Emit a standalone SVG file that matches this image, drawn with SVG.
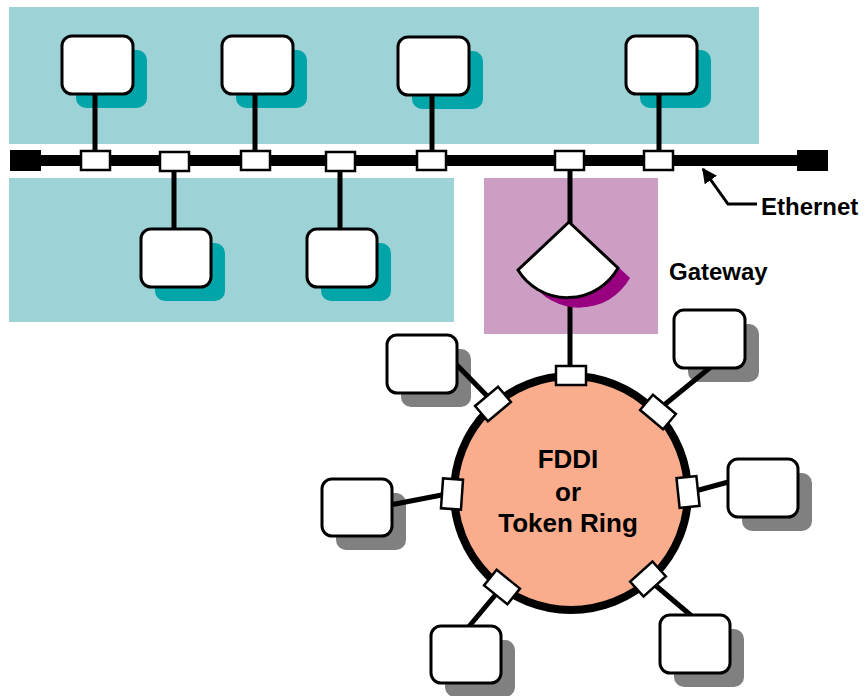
<svg xmlns="http://www.w3.org/2000/svg" width="864" height="696" viewBox="0 0 864 696">
<defs>
<style>
.node{fill:#fff;stroke:#000;stroke-width:3}
.shT{fill:#00A5AA}
.shG{fill:#808080}
.tap{fill:#fff;stroke:#000;stroke-width:2.5}
.wire{stroke:#000;stroke-width:5;fill:none}
.lbl{font-family:"Liberation Sans",Arial,sans-serif;font-weight:bold;fill:#000}
</style>
<marker id="ah" viewBox="0 0 10 10" refX="9" refY="5" markerWidth="5" markerHeight="5" orient="auto" markerUnits="strokeWidth">
<path d="M0,0 L10,5 L0,10 Z" fill="#000"/>
</marker>
</defs>
<rect width="864" height="696" fill="#fff"/>
<!-- panels -->
<rect x="9" y="7" width="750" height="137" fill="#9DD2D6"/>
<rect x="9" y="178" width="445" height="144" fill="#9DD2D6"/>
<rect x="484" y="178" width="174" height="156" fill="#CC9EC4"/>

<!-- ring -->
<g id="ring">
<circle cx="571" cy="493" r="117" fill="#F9AD8C" stroke="#000" stroke-width="8"/>
<text class="lbl" font-size="26" text-anchor="middle" x="568" y="468">FDDI</text>
<text class="lbl" font-size="26" text-anchor="middle" x="568" y="501">or</text>
<text class="lbl" font-size="26" text-anchor="middle" x="568" y="532">Token Ring</text>
</g>

<!-- shadows -->
<g id="shadows">
<rect class="shT" x="76" y="50" width="71" height="58" rx="10"/>
<rect class="shT" x="236" y="50" width="71" height="58" rx="10"/>
<rect class="shT" x="412" y="51" width="71" height="58" rx="10"/>
<rect class="shT" x="640" y="50" width="71" height="58" rx="10"/>
<rect class="shT" x="155" y="243" width="70" height="58" rx="10"/>
<rect class="shT" x="321" y="243" width="70" height="58" rx="10"/>
<rect class="shG" x="401" y="349" width="70" height="58" rx="10"/>
<rect class="shG" x="688" y="324" width="71" height="58" rx="10"/>
<rect class="shG" x="336" y="493" width="70" height="57" rx="10"/>
<rect class="shG" x="742" y="473" width="70" height="58" rx="10"/>
<rect class="shG" x="445" y="640" width="70" height="57" rx="10"/>
<rect class="shG" x="674" y="629" width="70" height="58" rx="10"/>
</g>

<!-- connectors -->
<g id="connectors">
<rect x="25" y="155" width="785" height="11" fill="#000"/>
<rect x="10" y="150" width="31" height="21" fill="#000"/>
<rect x="797" y="150" width="31" height="21" fill="#000"/>
<line class="wire" x1="95" y1="90" x2="95" y2="155"/>
<line class="wire" x1="255" y1="90" x2="255" y2="155"/>
<line class="wire" x1="432" y1="90" x2="432" y2="155"/>
<line class="wire" x1="659" y1="90" x2="659" y2="155"/>
<line class="wire" x1="174" y1="165" x2="174" y2="232"/>
<line class="wire" x1="340" y1="165" x2="340" y2="232"/>
<line class="wire" x1="570" y1="165" x2="570" y2="224"/>
<line class="wire" x1="570" y1="290" x2="570" y2="370"/>
<line class="wire" x1="452" y1="360" x2="493" y2="402"/>
<line class="wire" x1="712" y1="366" x2="658" y2="410"/>
<line class="wire" x1="390" y1="505" x2="452" y2="493"/>
<line class="wire" x1="688" y1="493" x2="732" y2="481"/>
<line class="wire" x1="502" y1="587" x2="466" y2="630"/>
<line class="wire" x1="648" y1="579" x2="694" y2="618"/>
<polyline points="757,204 728,204 703,169" fill="none" stroke="#000" stroke-width="3" marker-end="url(#ah)"/>
</g>

<!-- bus taps -->
<g id="taps">
<rect class="tap" x="81" y="151" width="29" height="19"/>
<rect class="tap" x="160" y="152" width="29" height="19"/>
<rect class="tap" x="241" y="151" width="29" height="19"/>
<rect class="tap" x="326" y="152" width="29" height="19"/>
<rect class="tap" x="417" y="151" width="29" height="19"/>
<rect class="tap" x="555" y="151" width="29" height="19"/>
<rect class="tap" x="644" y="151" width="29" height="19"/>
<rect class="tap" x="556" y="366" width="30" height="19"/>
<rect class="tap" x="-15" y="-10" width="30" height="20" transform="translate(493,404) rotate(-40)"/>
<rect class="tap" x="-15" y="-10" width="30" height="20" transform="translate(658,412) rotate(40)"/>
<rect class="tap" x="-15" y="-10" width="30" height="20" transform="translate(452,494) rotate(-86)"/>
<rect class="tap" x="-15" y="-10" width="30" height="20" transform="translate(688,492) rotate(84)"/>
<rect class="tap" x="-15" y="-10" width="30" height="20" transform="translate(502,587) rotate(39)"/>
<rect class="tap" x="-15" y="-10" width="30" height="20" transform="translate(648,579) rotate(-42)"/>
</g>

<!-- gateway -->
<g id="gateway">
<path d="M581,232 L630,278 A58,58 0 0 1 530,280 Z" fill="#990080"/>
<path d="M569,222 L618,268 A58,58 0 0 1 518,270 Z" fill="#fff" stroke="#000" stroke-width="3" stroke-linejoin="miter"/>
<text class="lbl" font-size="24" x="669" y="280">Gateway</text>
</g>
<text id="ethernet-label" class="lbl" font-size="24" x="761" y="215">Ethernet</text>

<!-- nodes -->
<g id="n1"><rect class="node" x="62" y="36" width="71" height="58" rx="10"/></g>
<g id="n2"><rect class="node" x="222" y="36" width="71" height="58" rx="10"/></g>
<g id="n3"><rect class="node" x="398" y="37" width="71" height="58" rx="10"/></g>
<g id="n4"><rect class="node" x="626" y="36" width="71" height="58" rx="10"/></g>
<g id="n5"><rect class="node" x="141" y="229" width="70" height="58" rx="10"/></g>
<g id="n6"><rect class="node" x="307" y="229" width="70" height="58" rx="10"/></g>
<g id="r1"><rect class="node" x="387" y="335" width="70" height="58" rx="10"/></g>
<g id="r2"><rect class="node" x="674" y="310" width="71" height="58" rx="10"/></g>
<g id="r3"><rect class="node" x="322" y="479" width="70" height="57" rx="10"/></g>
<g id="r4"><rect class="node" x="728" y="459" width="70" height="58" rx="10"/></g>
<g id="r5"><rect class="node" x="431" y="626" width="70" height="57" rx="10"/></g>
<g id="r6"><rect class="node" x="660" y="615" width="70" height="58" rx="10"/></g>
</svg>
